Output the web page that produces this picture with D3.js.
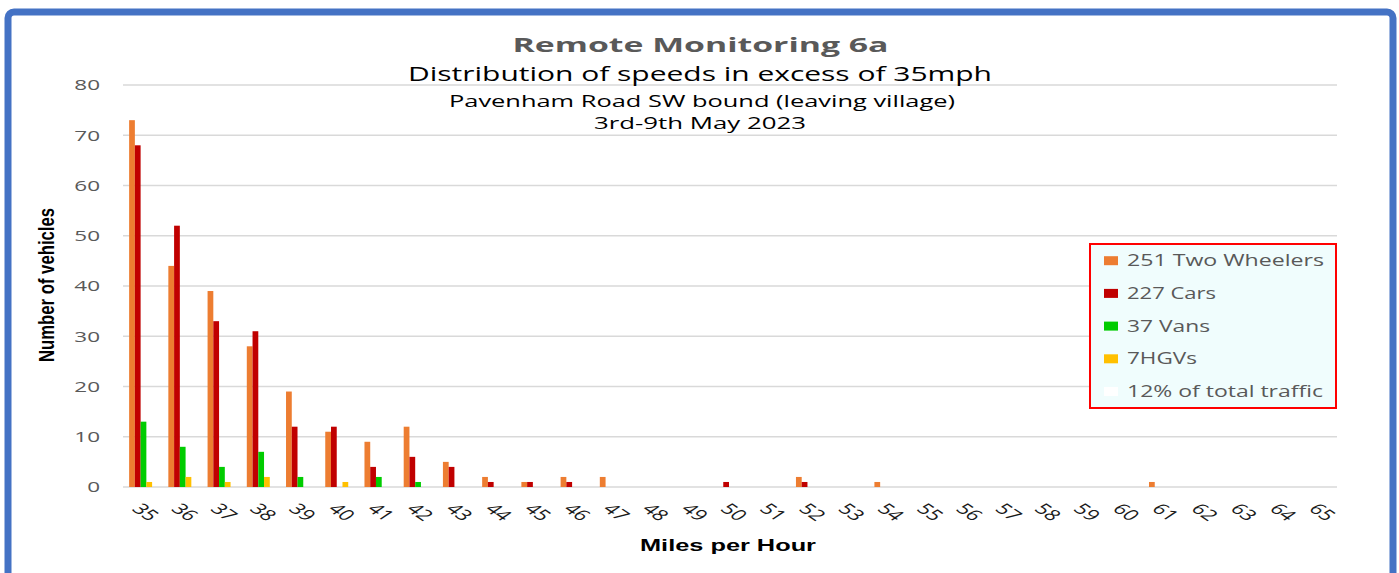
<!DOCTYPE html>
<html>
<head>
<meta charset="utf-8">
<script src="https://cdn.jsdelivr.net/npm/d3@7"></script>
<style>
  html, body { margin: 0; padding: 0; background: #ffffff; }
  svg { display: block; }
</style>
</head>
<body>
<svg id="chart" width="1399" height="573"></svg>
<script>
// ---- data ----
const speeds = ["35","36","37","38","39","40","41","42","43","44","45","46","47","48","49","50",
                "51","52","53","54","55","56","57","58","59","60","61","62","63","64","65"];
const twoWheelers = [73,44,39,28,19,11,9,12,5,2,1,2,2,0,0,0,0,2,0,1,0,0,0,0,0,0,1,0,0,0,0];
const cars        = [68,52,33,31,12,12,4,6,4,1,1,1,0,0,0,1,0,1,0,0,0,0,0,0,0,0,0,0,0,0,0];
const vans        = [13,8,4,7,2,0,2,1,0,0,0,0,0,0,0,0,0,0,0,0,0,0,0,0,0,0,0,0,0,0,0];
const hgvs        = [1,2,1,2,0,1,0,0,0,0,0,0,0,0,0,0,0,0,0,0,0,0,0,0,0,0,0,0,0,0,0];
const seriesNames = ["251 Two Wheelers","227 Cars","37 Vans","7HGVs"];
const legendExtra = "12% of total traffic";
const yTicks = [0,10,20,30,40,50,60,70,80];
const titleLines = ["Remote Monitoring 6a","Distribution of speeds in excess of 35mph",
                    "Pavenham Road SW bound (leaving village)","3rd-9th May 2023"];

// ---- styles ----
const colors = ["#ED7D31","#C00000","#00CC00","#FFC000"];
const SX = 1.5; // horizontal stretch of the original picture
const svg = d3.select("#chart");

// outer frame
svg.append("rect").attr("x",8).attr("y",12).attr("width",1385).attr("height",620)
  .attr("rx",6).attr("fill","#ffffff").attr("stroke","#4472C4").attr("stroke-width",7);

const series = [twoWheelers, cars, vans, hgvs];
const rows = speeds.map((s,i) => ({speed:s, vals: series.map(arr => arr[i])}));

const x = d3.scaleBand().domain(speeds).range([121,1337]).paddingInner(0.414).paddingOuter(0.207);
const xs = d3.scaleBand().domain(d3.range(series.length)).range([0, x.bandwidth()]);
const y = d3.scaleLinear().domain([0,80]).range([487,85]);

// gridlines
svg.append("g").selectAll("line").data(yTicks).join("line")
  .attr("x1",123).attr("x2",1337)
  .attr("y1",d=>y(d)).attr("y2",d=>y(d))
  .attr("stroke","#d9d9d9").attr("stroke-width",1.5);

// y tick labels
svg.append("g").selectAll("text").data(yTicks).join("text")
  .attr("transform",d=>`translate(100,${y(d)}) scale(${SX},1)`)
  .attr("text-anchor","end").attr("dy","0.36em")
  .attr("font-family","Open Sans").attr("font-size",15).attr("fill","#595959")
  .text(d=>d);

// bars
const groups = svg.append("g").selectAll("g").data(rows).join("g")
  .attr("transform",d=>`translate(${x(d.speed)},0)`);
groups.selectAll("rect").data(d=>d.vals.map((v,k)=>({v,k}))).join("rect")
  .attr("x",d=>xs(d.k)).attr("width",xs.bandwidth())
  .attr("y",d=>y(d.v)).attr("height",d=>y(0)-y(d.v))
  .attr("fill",d=>colors[d.k]);

// x tick labels
svg.append("g").selectAll("text").data(speeds).join("text")
  .attr("transform",d=>`translate(${x(d)+x.bandwidth()/2+5},512) scale(${SX},1) rotate(45)`)
  .attr("text-anchor","middle").attr("dy","0.35em")
  .attr("font-family","Open Sans").attr("font-size",15).attr("fill","#1a1a1a")
  .text(d=>d);

// titles
const tl = [
  {t:titleLines[0], x:700.5, y:51.7, fs:20, w:376, fw:"bold", c:"#595959"},
  {t:titleLines[1], x:700, y:81, fs:19.5, w:584, fw:"normal", c:"#000000"},
  {t:titleLines[2], x:702, y:106.7, fs:16.5, w:506, fw:"normal", c:"#000000"},
  {t:titleLines[3], x:700, y:129, fs:16.5, w:212, fw:"normal", c:"#000000"}
];
svg.append("g").selectAll("text").data(tl).join("text")
  .attr("x",d=>d.x).attr("y",d=>d.y).attr("text-anchor","middle")
  .attr("font-family","Open Sans").attr("font-size",d=>d.fs).attr("font-weight",d=>d.fw)
  .attr("fill",d=>d.c).attr("textLength",d=>d.w).attr("lengthAdjust","spacingAndGlyphs")
  .text(d=>d.t);

// axis titles
svg.append("text").attr("transform",`translate(54,285) scale(${SX},1) rotate(-90)`)
  .attr("text-anchor","middle")
  .attr("font-family","Liberation Sans Narrow, Liberation Sans").attr("font-size",15).attr("font-weight","bold")
  .attr("fill","#000").attr("textLength",154).attr("lengthAdjust","spacingAndGlyphs")
  .text("Number of vehicles");
svg.append("text").attr("x",728).attr("y",551).attr("text-anchor","middle")
  .attr("font-family","Liberation Sans").attr("font-size",17).attr("font-weight","bold")
  .attr("fill","#000").attr("textLength",176).attr("lengthAdjust","spacingAndGlyphs")
  .text("Miles per Hour");

// legend
const lg = svg.append("g");
lg.append("rect").attr("x",1090).attr("y",244).attr("width",246).attr("height",164)
  .attr("fill","#F0FDFD").attr("stroke","#FF0000").attr("stroke-width",2);
const legendItems = seriesNames.map((n,i)=>({n, c:colors[i]})).concat([{n:legendExtra, c:"#ffffff"}]);
const legendW = [197, 89, 83, 70, 196];
const li = lg.selectAll("g.item").data(legendItems).join("g").attr("class","item")
  .attr("transform",(d,i)=>`translate(0,${260.7 + i*32.7})`);
li.append("rect").attr("x",1104).attr("y",-4.5).attr("width",14).attr("height",9).attr("fill",d=>d.c);
li.append("text").attr("x",1127).attr("y",5.5)
  .attr("font-family","Open Sans").attr("font-size",16.5).attr("fill","#595959")
  .attr("textLength",(d,i)=>legendW[i]).attr("lengthAdjust","spacingAndGlyphs")
  .text(d=>d.n);
</script>
</body>
</html>
